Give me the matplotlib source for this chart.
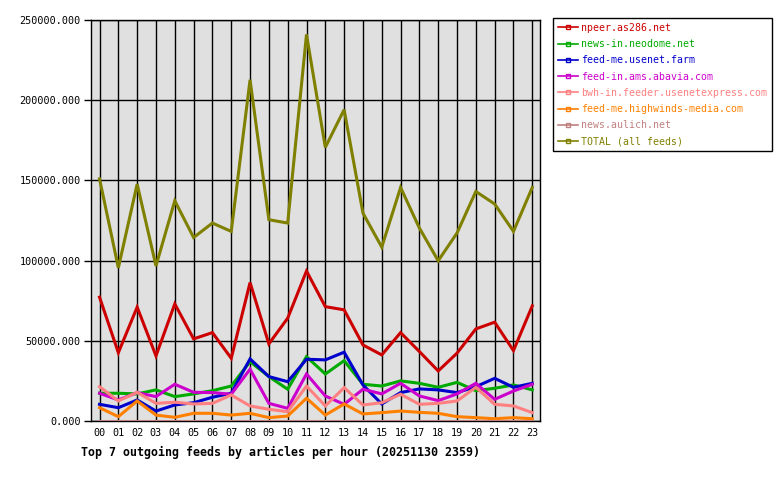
import matplotlib
matplotlib.use("Agg")
import matplotlib.pyplot as plt
from matplotlib.lines import Line2D

hours = ["%02d" % h for h in range(24)]

npeer = [77200, 42600, 71000, 40600, 73000, 51200, 55100, 39100, 86300, 48100, 64100, 93500,
         71300, 69300, 47400, 41200, 55100, 43300, 31200, 42300, 57400, 61600, 43900, 71800]
neodome = [17300, 17300, 16900, 19400, 15200, 16900, 18900, 21800, 37000, 27700, 19800, 40100,
           29300, 37600, 22900, 21800, 25000, 23500, 21000, 24100, 18900, 20400, 22500, 19400]
usenetfarm = [10400, 8300, 13100, 6200, 10000, 11400, 14800, 17300, 38700, 27700, 24500, 38500,
              38100, 42900, 22500, 10600, 17700, 20000, 19400, 17700, 21400, 26600, 21000, 23500]
abavia = [17300, 13100, 17700, 15200, 22900, 17900, 17700, 16700, 32300, 11000, 7900, 29300,
          15600, 10400, 19800, 16900, 23500, 15600, 12700, 16900, 23500, 13500, 18700, 22900]
usenetexpress = [21400, 12500, 17900, 11000, 11700, 10600, 11000, 16200, 9400, 7300, 5800, 21800,
                 9400, 20800, 10000, 11400, 16700, 10400, 11000, 12500, 21000, 10400, 9400, 5200]
highwinds = [8300, 2700, 12500, 3700, 2300, 4800, 4800, 3700, 4800, 2100, 3100, 14200,
             3700, 10600, 4400, 5200, 6200, 5400, 4800, 2700, 2100, 1400, 2100, 1400]
aulich = [300] * 24
total = [151000, 95500, 147700, 96700, 137300, 114400, 123400, 118200, 212700, 125500, 123400, 241000,
         170600, 194100, 129600, 108400, 145600, 120300, 99900, 117200, 143100, 135300, 118200, 145600]

names = ["npeer.as286.net", "news-in.neodome.net", "feed-me.usenet.farm", "feed-in.ams.abavia.com",
         "bwh-in.feeder.usenetexpress.com", "feed-me.highwinds-media.com", "news.aulich.net",
         "TOTAL (all feeds)"]
series = [npeer, neodome, usenetfarm, abavia, usenetexpress, highwinds, aulich, total]
colors = ["#cc0000", "#00aa00", "#0000cc", "#cc00cc", "#ff8080", "#ff8000", "#c08080", "#808000"]

yticks = [0, 50000, 100000, 150000, 200000, 250000]
title = "Top 7 outgoing feeds by articles per hour (20251130 2359)"

W, H = 780, 480
fig = plt.figure(figsize=(W / 100, H / 100), dpi=100)
fig.patch.set_facecolor("white")
ax = fig.add_axes([90.5 / W, 1 - 421 / H, (540 - 90.5) / W, (421 - 20) / H])
ax.set_facecolor("#e0e0e0")

x = list(range(24))
for s, c in zip(series, colors):
    ax.plot(x, s, color=c, lw=2.2, solid_joinstyle="miter", zorder=3)

ax.set_xlim(-0.48, 23.41)
ax.set_ylim(0, 250000)
ax.set_xticks(x)
ax.set_xticklabels(hours)
ax.set_yticks(yticks)
ax.set_yticklabels(["%.3f" % v for v in yticks])
ax.grid(True, color="black", lw=1, zorder=1)
ax.set_axisbelow(True)
for sp in ax.spines.values():
    sp.set_color("black")
    sp.set_linewidth(1.0)
mono = "DejaVu Sans Mono"
ax.tick_params(axis="y", direction="out", length=5, width=1, labelsize=7.3, pad=2)
ax.tick_params(axis="x", direction="out", length=0, labelsize=7.3, pad=5)
for lab in ax.get_xticklabels() + ax.get_yticklabels():
    lab.set_family(mono)

fig.text(81 / W, 1 - 452 / H, title, family=mono, fontsize=8.4, fontweight="bold",
         ha="left", va="center")

handles = [Line2D([0], [0], color=c, lw=1.2, marker="s", markersize=3,
                  markerfacecolor="none", markeredgecolor=c) for c in colors]
leg = fig.legend(handles, names, loc="upper left", bbox_to_anchor=(553 / W, 1 - 18 / H),
                 frameon=True, fancybox=False, edgecolor="black", framealpha=1,
                 prop={"family": mono, "size": 7.1}, handlelength=2.0, handletextpad=0.35,
                 labelspacing=0.63, borderpad=0.5, borderaxespad=0)
leg.get_frame().set_linewidth(1.0)
for t, c in zip(leg.get_texts(), colors):
    t.set_color(c)

fig.savefig("out.png", dpi=100)
